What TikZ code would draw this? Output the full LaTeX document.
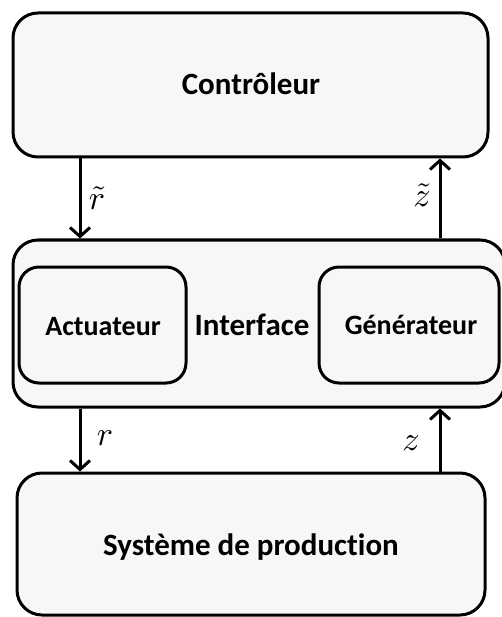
\documentclass[tikz,border=0pt]{standalone}
\usepackage{fontspec}
\setmainfont{Carlito}[Ligatures={CommonOff}]
\usetikzlibrary{arrows.meta}
\definecolor{boxfill}{HTML}{F7F7F7}
\tikzset{
  bigbox/.style={draw=black, line width=3pt, fill=boxfill, rounded corners=25pt, inner sep=0pt},
  smallbox/.style={draw=black, line width=3pt, fill=boxfill, rounded corners=20pt, inner sep=0pt},
  bigtxt/.style={anchor=base, inner sep=0pt, font=\fontsize{31}{36}\selectfont\bfseries},
  smalltxt/.style={anchor=base, inner sep=0pt, font=\fontsize{28}{32}\selectfont\bfseries},
  mathlbl/.style={anchor=base, inner sep=0pt, scale=3.4},
  flow/.style={line width=3pt, -{Straight Barb[length=9pt,width=20pt,line width=3pt]}}
}
\begin{document}
\begin{tikzpicture}[x=1pt,y=-1pt]
\useasboundingbox (0,0) rectangle (501,617);
% boxes
\node[bigbox, minimum width=475pt, minimum height=144pt] (ctrl) at (250.5,85) {};
\node[bigbox, minimum width=492pt, minimum height=167pt] (iface) at (259,323.5) {};
\node[smallbox, minimum width=167pt, minimum height=116pt] (act) at (102.5,325) {};
\node[smallbox, minimum width=180pt, minimum height=116pt] (gen) at (409,325) {};
\node[bigbox, minimum width=468pt, minimum height=142pt] (sys) at (251,544) {};
% texts
\node[bigtxt] (tctrl) at (251,95) {Contrôleur};
\node[bigtxt] (tiface) at (252,335) {Interface};
\node[smalltxt] (tact) at (103,335) {Actuateur};
\node[smalltxt] (tgen) at (411,334) {Générateur};
\node[bigtxt] (tsys) at (251,555) {Système de production};
% connector columns
\coordinate (lx) at (80,0);
\coordinate (rx) at (440,0);
\draw[flow] (lx |- ctrl.south) -- (lx |- iface.north);
\draw[flow] (rx |- iface.north) -- (rx |- ctrl.south);
\draw[flow] (lx |- iface.south) -- (lx |- sys.north);
\draw[flow] (rx |- sys.north) -- (rx |- iface.south);
% labels
\node[mathlbl] (lrt) at (97,210) {$\tilde{r}$};
\node[mathlbl] (lzt) at (422,207) {$\tilde{z}$};
\node[mathlbl] (lr) at (105,445) {$r$};
\node[mathlbl] (lz) at (411,450) {$z$};
\end{tikzpicture}
\end{document}
